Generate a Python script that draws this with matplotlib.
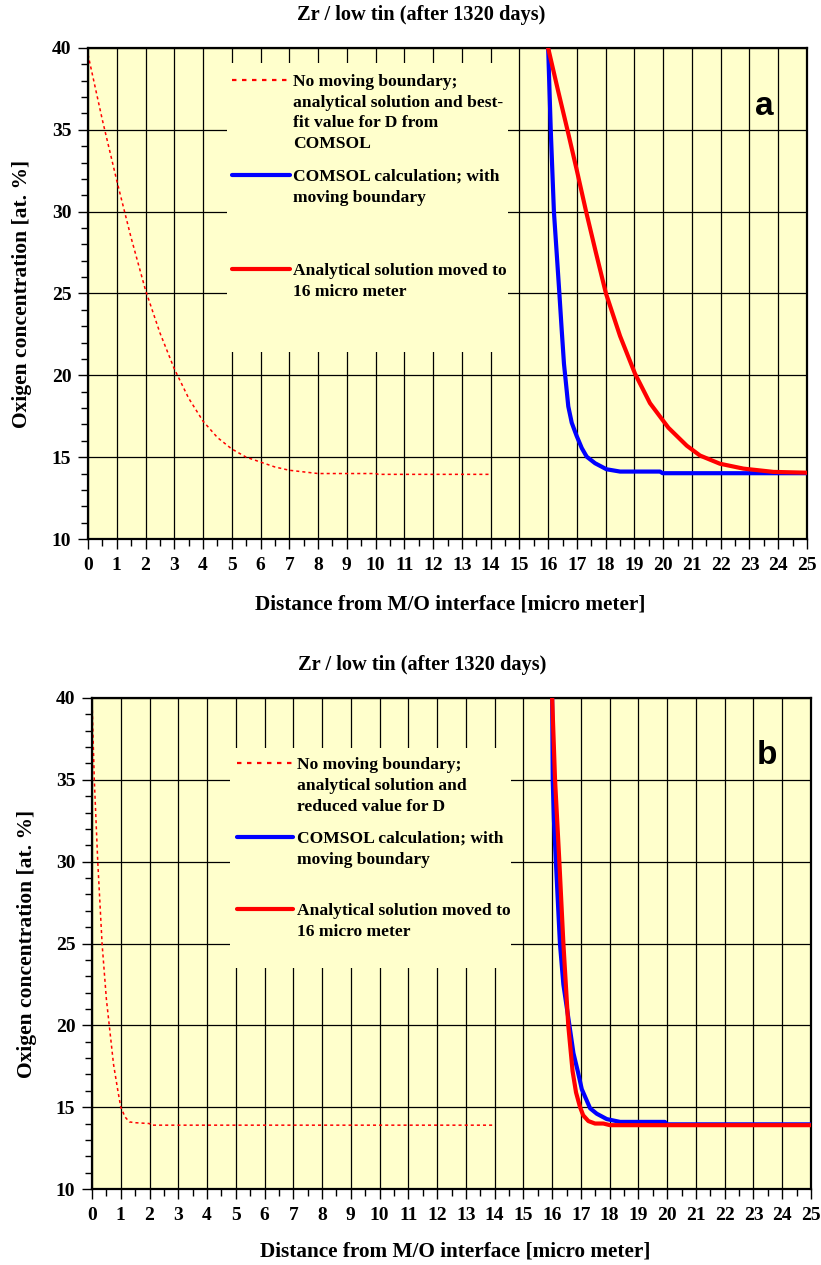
import matplotlib
matplotlib.use("Agg")
import matplotlib.pyplot as plt
from matplotlib.lines import Line2D
from matplotlib.patches import Rectangle
from matplotlib.ticker import MultipleLocator

# ---------------- data ----------------
title_text = "Zr / low tin (after 1320 days)"
xlabel_text = "Distance from M/O interface [micro meter]"
ylabel_text = "Oxigen concentration [at. %]"

x_ticks = list(range(0, 26))
y_ticks = [10, 15, 20, 25, 30, 35, 40]

# panel a
dotted_a_x = [0, 0.5, 1, 1.5, 2, 2.5, 3, 3.5, 4, 4.5, 5, 5.5, 6, 6.5, 7, 7.5, 8, 9, 10, 10.1, 12, 14]
dotted_a_y = [39.6, 35.6, 31.9, 28.4, 25.2, 22.6, 20.4, 18.6, 17.2, 16.2, 15.5, 15.0, 14.7, 14.4,
              14.2, 14.1, 14.0, 14.0, 14.0, 13.95, 13.95, 13.95]
blue_a_x = [16.0, 16.09, 16.2, 16.32, 16.39, 16.47, 16.55, 16.62, 16.7, 16.82, 16.99, 17.17,
            17.34, 17.63, 18.03, 18.5, 19.89, 19.98, 25.0]
blue_a_y = [40.0, 35.0, 30.0, 26.85, 25.0, 22.8, 20.7, 19.5, 18.1, 17.1, 16.3, 15.55,
            15.03, 14.63, 14.26, 14.12, 14.12, 14.02, 14.02]
red_a_x = [16.0, 16.33, 16.67, 17.0, 17.32, 17.66, 18.01, 18.5, 19.02, 19.54, 20.18, 20.82,
           21.28, 21.97, 22.79, 23.83, 25.0]
red_a_y = [40.0, 37.5, 35.0, 32.5, 30.0, 27.5, 25.0, 22.4, 20.1, 18.3, 16.8, 15.7,
           15.1, 14.6, 14.3, 14.1, 14.05]

# panel b
dotted_b_x = [0, 0.03, 0.08, 0.2, 0.35, 0.5, 0.6, 0.75, 0.9, 1.0, 1.15, 1.3, 1.5, 2.0, 2.05, 14.0]
dotted_b_y = [40, 38, 35, 30, 25, 21.6, 20, 17.6, 16.0, 15.0, 14.4, 14.1, 14.05, 14.0, 13.9, 13.9]
blue_b_x = [16.0, 16.02, 16.06, 16.13, 16.27, 16.39, 16.6, 16.74, 16.89, 17.03, 17.32, 17.55,
            17.9, 18.36, 19.92, 19.98, 25.0]
blue_b_y = [40.0, 35.0, 32.6, 30.0, 25.0, 22.5, 20.0, 18.3, 17.2, 16.1, 14.93, 14.6,
            14.27, 14.1, 14.1, 13.95, 13.95]
red_b_x = [16.0, 16.1, 16.25, 16.39, 16.56, 16.71, 16.83, 16.97, 17.08, 17.26, 17.49, 17.78, 18.01, 25.0]
red_b_y = [40.0, 35.0, 30.0, 25.0, 20.0, 17.2, 15.9, 15.0, 14.5, 14.15, 14.0, 14.0, 13.9, 13.9]

legend_a = ["No moving boundary;\nanalytical solution and best-\nfit value for D from\nCOMSOL",
            "COMSOL calculation; with\nmoving boundary",
            "Analytical solution moved to\n16 micro meter"]
legend_b = ["No moving boundary;\nanalytical solution and\nreduced value for D",
            "COMSOL calculation; with\nmoving boundary",
            "Analytical solution moved to\n16 micro meter"]

# ---------------- style ----------------
W, H = 821, 1265
BG = "#FFFFCC"
SERIF = "Liberation Serif"
SANS = "Liberation Sans"
plt.rcParams["font.family"] = SERIF
plt.rcParams["font.weight"] = "bold"

fig = plt.figure(figsize=(W / 100, H / 100), dpi=100)


def px_axes(left, right, top, bottom):
    return [left / W, 1 - bottom / H, (right - left) / W, (bottom - top) / H]


def setup(ax):
    ax.set_facecolor(BG)
    ax.set_xlim(0, 25)
    ax.set_ylim(10, 40)
    ax.set_xticks(x_ticks)
    ax.set_yticks(y_ticks)
    ax.xaxis.set_minor_locator(MultipleLocator(0.5))
    ax.yaxis.set_minor_locator(MultipleLocator(1))
    ax.tick_params(which="major", direction="out", length=7, width=1.0, pad=6,
                   labelsize=14, colors="black")
    ax.tick_params(which="minor", direction="out", length=5, width=1.0)
    ax.tick_params(axis="y", which="major", pad=5)
    for lab in ax.get_xticklabels() + ax.get_yticklabels():
        lab.set_fontweight("bold")
        lab.set_fontfamily(SERIF)
    ax.set_axisbelow(True)
    ax.grid(True, which="major", color="black", linewidth=0.9)
    for s in ax.spines.values():
        s.set_linewidth(1.6)


def legend(ax, box, hx0, hx1, tx, ys, labels, lh):
    ax.add_patch(Rectangle((box[0], box[1]), box[2] - box[0], box[3] - box[1],
                           transform=ax.transAxes, facecolor=BG, edgecolor="none",
                           zorder=1))
    styles = [dict(color="red", lw=1.6, linestyle=(0, (2, 2.5))),
              dict(color="blue", lw=3.0, solid_capstyle="round"),
              dict(color="red", lw=3.0, solid_capstyle="round")]
    for y, lab, st in zip(ys, labels, styles):
        ax.add_line(Line2D([hx0, hx1], [y, y], transform=ax.transAxes, zorder=3, **st))
        ax.text(tx, y + 0.0125, lab, transform=ax.transAxes, ha="left", va="top",
                fontsize=12.6, fontweight="bold", family=SERIF, linespacing=lh, zorder=4)


# ---------------- panel a ----------------
ax1 = fig.add_axes(px_axes(88, 807, 48, 539))
setup(ax1)
ax1.plot(dotted_a_x, dotted_a_y, color="red", lw=1.1, linestyle=(0, (2, 2)), zorder=2)
ax1.plot(blue_a_x, blue_a_y, color="blue", lw=3.0, zorder=3)
ax1.plot(red_a_x, red_a_y, color="red", lw=3.0, zorder=3)
legend(ax1, (0.193, 0.381, 0.584, 0.9695), 0.2003, 0.281, 0.2847,
       [0.9348, 0.7413, 0.5499], legend_a, 1.39)
ax1.text(0.940, 0.880, "a", transform=ax1.transAxes, ha="center", va="center",
         fontsize=24, fontweight="bold", family=SANS, zorder=5)
ax1.text(-0.092, 0.5, ylabel_text, transform=ax1.transAxes, rotation=90,
         ha="center", va="center", fontsize=15.5, fontweight="bold", family=SERIF)
ax1.text(0.5035, -0.1344, xlabel_text, transform=ax1.transAxes, ha="center",
         va="center", fontsize=15.3, fontweight="bold", family=SERIF)
fig.text(421 / W, 1 - 15 / H, title_text, ha="center", va="center", fontsize=14.7,
         fontweight="bold", family=SERIF)

# ---------------- panel b ----------------
ax2 = fig.add_axes(px_axes(92, 811, 698, 1189))
setup(ax2)
ax2.plot(dotted_b_x, dotted_b_y, color="red", lw=1.1, linestyle=(0, (2, 2)), zorder=2)
ax2.plot(blue_b_x, blue_b_y, color="blue", lw=3.0, zorder=3)
ax2.plot(red_b_x, red_b_y, color="red", lw=3.0, zorder=3)
legend(ax2, (0.192, 0.450, 0.583, 0.898), 0.2017, 0.2796, 0.2851,
       [0.8676, 0.7169, 0.5703], legend_b, 1.41)
ax2.text(0.939, 0.883, "b", transform=ax2.transAxes, ha="center", va="center",
         fontsize=24, fontweight="bold", family=SANS, zorder=5)
ax2.text(-0.0905, 0.5, ylabel_text, transform=ax2.transAxes, rotation=90,
         ha="center", va="center", fontsize=15.5, fontweight="bold", family=SERIF)
ax2.text(0.505, -0.1267, xlabel_text, transform=ax2.transAxes, ha="center",
         va="center", fontsize=15.3, fontweight="bold", family=SERIF)
fig.text(422 / W, 1 - 665 / H, title_text, ha="center", va="center", fontsize=14.7,
         fontweight="bold", family=SERIF)

fig.savefig("out.png", dpi=100, facecolor="white")
